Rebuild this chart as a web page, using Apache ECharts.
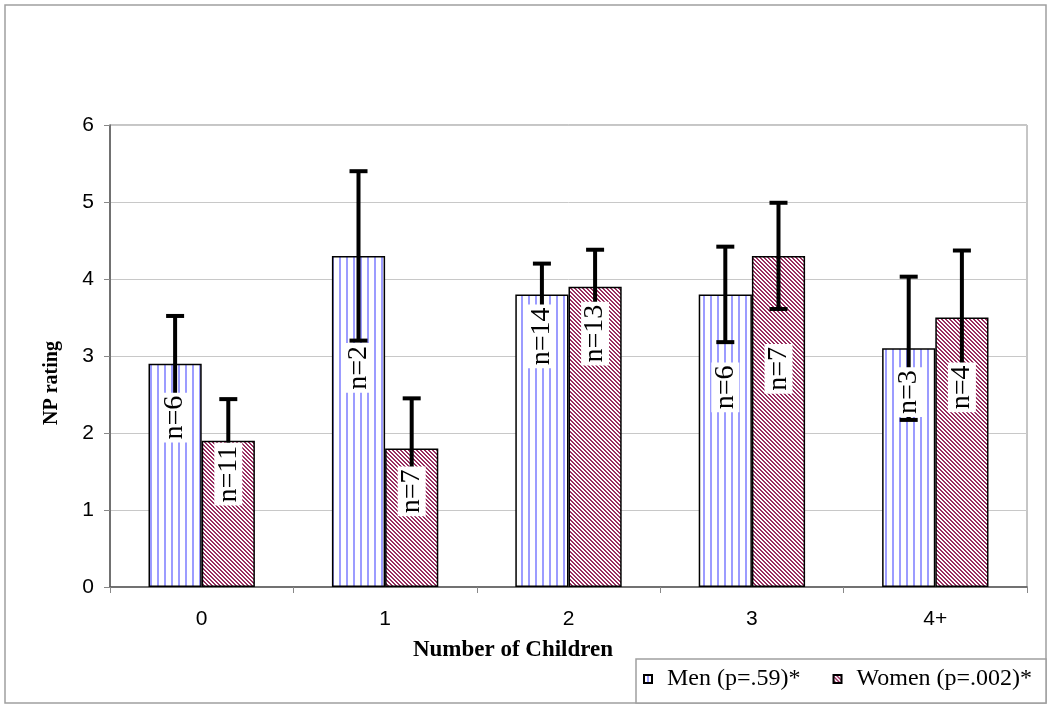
<!DOCTYPE html>
<html>
<head>
<meta charset="utf-8">
<script src="https://cdn.jsdelivr.net/npm/echarts@6/dist/echarts.min.js"></script>
<style>
html,body{margin:0;padding:0;background:#fff;}
#chart{width:1050px;height:710px;}
</style>
</head>
<body>
<div id="chart"></div>
<script>
// ---- data ----
const categories = ['0', '1', '2', '3', '4+'];
const yTicks = [0, 1, 2, 3, 4, 5, 6];
const menMeans = [2.9, 4.3, 3.8, 3.8, 3.1];
const womenMeans = [1.9, 1.8, 3.9, 4.3, 3.5];
const menErr = [0.62, 1.1, 0.4, 0.62, 0.93];
const womenErr = [0.54, 0.65, 0.48, 0.69, 0.87];
const menN = [6, 2, 14, 6, 3];
const womenN = [11, 7, 13, 7, 4];
const menName = 'Men (p=.59)*';
const womenName = 'Women (p=.002)*';

// ---- styles ----
const BAR_FRAC = 0.29;
const menLabelDrop = [29, 87, 10, 68, 19];   // px below bar top
const womenLabelDrop = [2, 18, 15, 88, 45];

function menPattern() {
  const c = document.createElement('canvas');
  c.width = 7; c.height = 4;
  const g = c.getContext('2d');
  g.fillStyle = '#ffffff'; g.fillRect(0, 0, 7, 4);
  g.fillStyle = '#9c9cff'; g.fillRect(3, 0, 2, 4);
  return c;
}
function womenPattern() {
  const n = 8;
  const c = document.createElement('canvas');
  c.width = n; c.height = n;
  const g = c.getContext('2d');
  const img = g.createImageData(n, n);
  for (let y = 0; y < n; y++) {
    for (let x = 0; x < n; x++) {
      const k = (((x - y) % 4) + 4) % 4;
      const white = k < 2;
      const p = (y * n + x) * 4;
      img.data[p] = white ? 255 : 0x99;
      img.data[p + 1] = white ? 255 : 0x2e;
      img.data[p + 2] = white ? 255 : 0x60;
      img.data[p + 3] = 255;
    }
  }
  g.putImageData(img, 0, 0);
  return c;
}

const chart = echarts.init(document.getElementById('chart'), null, {renderer: 'canvas'});

function offsetFor(api, side) {
  const bw = api.size([1, 0])[0] * BAR_FRAC;
  return side * bw / 2;
}

function errRender(side) {
  return function (params, api) {
    const i = api.value(0);
    const lo = api.coord([i, api.value(1)]);
    const hi = api.coord([i, api.value(2)]);
    const x = lo[0] + offsetFor(api, side);
    const cap = 9;
    const st = {stroke: '#000', lineWidth: 4, lineCap: 'butt'};
    return {
      type: 'group',
      children: [
        {type: 'line', shape: {x1: x, y1: hi[1], x2: x, y2: lo[1]}, style: st},
        {type: 'line', shape: {x1: x - cap, y1: hi[1], x2: x + cap, y2: hi[1]}, style: st},
        {type: 'line', shape: {x1: x - cap, y1: lo[1], x2: x + cap, y2: lo[1]}, style: st}
      ]
    };
  };
}

function labelRender(side, nArr, drops) {
  return function (params, api) {
    const i = api.value(0);
    const top = api.coord([i, api.value(1)]);
    const x = top[0] + offsetFor(api, side);
    return {
      type: 'text',
      x: x,
      y: top[1] + drops[params.dataIndex],
      rotation: Math.PI / 2,
      style: {
        text: 'n=' + nArr[params.dataIndex],
        font: '28px "Liberation Serif", "Times New Roman", serif',
        fill: '#000',
        align: 'right',
        verticalAlign: 'middle',
        backgroundColor: '#fff',
        padding: [0, 3, 0, 3]
      }
    };
  };
}

const option = {
  backgroundColor: '#fff',
  animation: false,
  grid: {left: 110, right: 23, top: 125, bottom: 123, show: true, borderColor: '#8c8c8c', borderWidth: 1, containLabel: false},
  legend: {
    data: [menName, womenName],
    left: 643, top: 667, padding: 0,
    itemWidth: 8, itemHeight: 8, itemGap: 32,
    icon: 'rect',
    textStyle: {fontFamily: '"Liberation Serif", "Times New Roman", serif', fontSize: 24, color: '#000', padding: [0, 0, 0, 10]}
  },
  xAxis: {
    type: 'category',
    data: categories,
    boundaryGap: true,
    axisLine: {lineStyle: {color: '#555', width: 1.5}},
    axisTick: {show: true, length: 6, lineStyle: {color: '#888'}},
    axisLabel: {fontFamily: '"Liberation Sans", Arial, sans-serif', fontSize: 21, color: '#000', margin: 22},
    splitLine: {show: false}
  },
  yAxis: {
    type: 'value',
    min: yTicks[0], max: yTicks[yTicks.length - 1], interval: 1,
    axisLine: {show: true, lineStyle: {color: '#555', width: 1.5}},
    axisTick: {show: true, length: 6, lineStyle: {color: '#888'}},
    axisLabel: {fontFamily: '"Liberation Sans", Arial, sans-serif', fontSize: 21, color: '#000', margin: 16},
    splitLine: {show: true, lineStyle: {color: '#c8c8c8', width: 1}}
  },
  series: [
    {
      name: menName, type: 'bar', data: menMeans, barWidth: (BAR_FRAC * 100) + '%', barGap: '0%', z: 2,
      itemStyle: {color: {image: menPattern(), repeat: 'repeat'}, borderColor: '#000', borderWidth: 1.5}
    },
    {
      name: womenName, type: 'bar', data: womenMeans, barWidth: (BAR_FRAC * 100) + '%', barGap: '0%', z: 2,
      itemStyle: {color: {image: womenPattern(), repeat: 'repeat'}, borderColor: '#000', borderWidth: 1.5}
    },
    {
      name: 'menErr', type: 'custom', z: 3, silent: true,
      data: menMeans.map((v, i) => [i, v - menErr[i], v + menErr[i]]),
      encode: {x: 0, y: [1, 2]},
      renderItem: errRender(-1)
    },
    {
      name: 'womenErr', type: 'custom', z: 3, silent: true,
      data: womenMeans.map((v, i) => [i, v - womenErr[i], v + womenErr[i]]),
      encode: {x: 0, y: [1, 2]},
      renderItem: errRender(1)
    },
    {
      name: 'menLbl', type: 'custom', z: 4, silent: true,
      data: menMeans.map((v, i) => [i, v]),
      encode: {x: 0, y: 1},
      renderItem: labelRender(-1, menN, menLabelDrop)
    },
    {
      name: 'womenLbl', type: 'custom', z: 4, silent: true,
      data: womenMeans.map((v, i) => [i, v]),
      encode: {x: 0, y: 1},
      renderItem: labelRender(1, womenN, womenLabelDrop)
    }
  ],
  graphic: [
    {type: 'rect', z: -10, silent: true, shape: {x: 5, y: 5, width: 1041, height: 698},
     style: {fill: 'none', stroke: '#a0a0a0', lineWidth: 1.5}},
    {type: 'rect', z: -5, silent: true, shape: {x: 636, y: 659, width: 410, height: 44},
     style: {fill: '#fff', stroke: '#a0a0a0', lineWidth: 1.5}},
    {type: 'text', silent: true, x: 513, y: 650,
     style: {text: 'Number of Children', font: 'bold 23px "Liberation Serif", "Times New Roman", serif', fill: '#000', align: 'center', verticalAlign: 'middle'}},
    {type: 'text', silent: true, x: 52, y: 383, rotation: Math.PI / 2,
     style: {text: 'NP rating', font: 'bold 20px "Liberation Serif", "Times New Roman", serif', fill: '#000', align: 'center', verticalAlign: 'middle'}}
  ]
};
chart.setOption(option);
</script>
</body>
</html>
